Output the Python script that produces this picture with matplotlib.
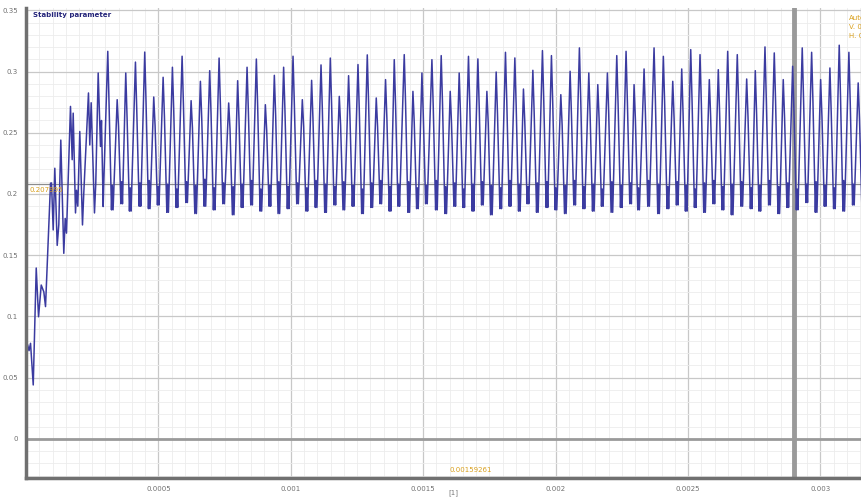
import matplotlib
matplotlib.use("Agg")
import matplotlib.pyplot as plt
from matplotlib.ticker import MultipleLocator

# start-up part of the trace, read point by point (time in microseconds)
start_t = [1.9, 5.7, 11.3, 17.0, 27.2, 38.5, 47.2, 57.4, 67.2, 73.6, 92.5, 96.2,
           102.6, 108.7, 117.7, 123.8, 131.3, 142.6, 147.9, 152.8, 167.9, 174.3,
           178.1, 186.8, 190.6, 195.5, 203.0, 213.2, 218.1, 235.8, 240.8, 246.0,
           258.5, 263.4, 272.5, 281.1, 284.9, 291.3, 293.6]
start_v = [0.070, 0.077, 0.072, 0.078, 0.044, 0.1395, 0.0997, 0.1256, 0.120, 0.108,
           0.2088, 0.209, 0.1706, 0.221, 0.158, 0.175, 0.244, 0.1515, 0.180, 0.168,
           0.2715, 0.228, 0.266, 0.1845, 0.203, 0.190, 0.251, 0.1747, 0.2008, 0.2825,
           0.240, 0.2745, 0.1845, 0.209, 0.2988, 0.2388, 0.260, 0.1897, 0.209]

# steady oscillation: one entry per cycle
peak_t = [308.7, 344.2, 376.6, 413.2, 448.3,
          482.3, 517.7, 552.8, 589.4, 623.4, 658.5, 693.6, 729.1, 765.3, 799.2,
          834.7, 869.8, 903.8, 937.7, 972.8, 1008.3, 1043.4, 1078.5, 1114.0, 1149.1,
          1183.0, 1218.1, 1253.6, 1288.7, 1322.6, 1357.7,
          1390.6, 1428.3, 1461.1, 1495.1, 1532.8, 1567.9, 1601.9, 1635.8, 1670.9,
          1706.4, 1740.4, 1775.5, 1810.6, 1846.0, 1878.5, 1914.0, 1950.2, 1984.2,
          2019.6, 2054.7, 2089.8, 2125.3, 2159.2, 2195.5, 2230.9, 2266.0,
          2296.2, 2334.0, 2371.7, 2406.8, 2442.3, 2476.2, 2510.2, 2545.3, 2580.4,
          2614.3, 2649.8, 2686.0, 2721.5, 2754.0, 2790.6, 2825.7, 2859.6, 2895.1,
          2931.3, 2966.8, 3000.8, 3035.8, 3071.0, 3107.5, 3142.6]
peak_v = [0.3165, 0.2770, 0.2988, 0.3077, 0.3159,
          0.2792, 0.2953, 0.3035, 0.3125, 0.2762, 0.2920, 0.3007, 0.3110, 0.2743, 0.2925,
          0.3035, 0.3102, 0.2729, 0.2969, 0.3035, 0.3125, 0.2770, 0.2928, 0.3054, 0.3110,
          0.2797, 0.2966, 0.3057, 0.3136, 0.2784, 0.2934,
          0.3097, 0.3138, 0.2838, 0.2988, 0.3097, 0.3130, 0.2838, 0.2988, 0.3124,
          0.3103, 0.2838, 0.2996, 0.3157, 0.3111, 0.2857, 0.3010, 0.3171, 0.3130,
          0.2811, 0.3002, 0.3193, 0.2988, 0.2893, 0.2988, 0.3130, 0.3165,
          0.2893, 0.3021, 0.3193, 0.3124, 0.2920, 0.3021, 0.3179, 0.3138, 0.2934,
          0.3015, 0.3165, 0.3138, 0.2939, 0.3007, 0.3201, 0.3152, 0.2934, 0.3043,
          0.3193, 0.3157, 0.2934, 0.3029, 0.3215, 0.3157, 0.2907]
shoulder_v = [0.272, 0.255, 0.262, 0.268, 0.274,
              0.256, 0.263, 0.268, 0.273, 0.254, 0.262, 0.266, 0.272, 0.253, 0.261,
              0.267, 0.271, 0.252, 0.264, 0.268, 0.273, 0.255, 0.262, 0.269, 0.272,
              0.256, 0.264, 0.268, 0.274, 0.255, 0.262,
              0.272, 0.274, 0.258, 0.265, 0.271, 0.273, 0.257, 0.264, 0.272,
              0.271, 0.258, 0.265, 0.275, 0.272, 0.259, 0.266, 0.276, 0.273,
              0.256, 0.265, 0.277, 0.264, 0.261, 0.265, 0.273, 0.275,
              0.261, 0.266, 0.277, 0.273, 0.262, 0.266, 0.276, 0.274, 0.263,
              0.266, 0.275, 0.274, 0.263, 0.265, 0.277, 0.275, 0.262, 0.267,
              0.277, 0.275, 0.263, 0.266, 0.278, 0.275, 0.261]
trough_v = [0.187, 0.192, 0.186, 0.190, 0.188, 0.191, 0.185, 0.189, 0.193, 0.184,
            0.190, 0.187, 0.192, 0.183, 0.189, 0.191, 0.186, 0.190, 0.184, 0.188,
            0.192, 0.186, 0.189, 0.185, 0.191, 0.187, 0.190, 0.184, 0.189, 0.192,
            0.186, 0.190, 0.185, 0.188, 0.192, 0.187, 0.184, 0.190, 0.189, 0.186,
            0.191, 0.183, 0.188, 0.190, 0.186, 0.192, 0.185, 0.189, 0.187, 0.184,
            0.191, 0.188, 0.186, 0.190, 0.185, 0.189, 0.192, 0.187, 0.190, 0.184,
            0.188, 0.191, 0.186, 0.189, 0.185, 0.192, 0.187, 0.183, 0.190, 0.188,
            0.186, 0.191, 0.184, 0.189, 0.187, 0.193, 0.185, 0.190, 0.188, 0.186,
            0.191, 0.189]
bump_v = [0.207, 0.210, 0.205, 0.209, 0.211, 0.206, 0.208, 0.204, 0.210, 0.207,
          0.212, 0.205, 0.209, 0.206, 0.208, 0.211, 0.204, 0.207, 0.210, 0.206,
          0.209, 0.205, 0.211, 0.208, 0.206, 0.210, 0.207, 0.204, 0.209, 0.211,
          0.206, 0.208, 0.210, 0.205, 0.207, 0.211, 0.206, 0.209, 0.204, 0.208,
          0.210, 0.207, 0.205, 0.211, 0.208, 0.206, 0.209, 0.210, 0.205, 0.207,
          0.211, 0.206, 0.208, 0.204, 0.210, 0.207, 0.209, 0.205, 0.211, 0.208,
          0.206, 0.210, 0.207, 0.204, 0.209, 0.211, 0.206, 0.208, 0.210, 0.205,
          0.207, 0.211, 0.206, 0.209, 0.204, 0.208, 0.210, 0.207, 0.205, 0.211,
          0.208, 0.206]

x_ticks = [0.0005, 0.001, 0.0015, 0.002, 0.0025, 0.003]
x_labels = ["0.0005", "0.001", "0.0015", "0.002", "0.0025", "0.003"]
y_ticks = [0, 0.05, 0.1, 0.15, 0.2, 0.25, 0.3, 0.35]
y_labels = ["0", "0.05", "0.1", "0.15", "0.2", "0.25", "0.3", "0.35"]

cursor_t = 0.0029
cursor_v = 0.2078

# build the polyline: peak, shoulder, trough, small bump, trough
t = list(start_t)
v = list(start_v)
for i in range(len(peak_t)):
    p = peak_t[i]
    t += [p, p + 5, p + 14, p + 17, p + 20]
    v += [peak_v[i], shoulder_v[i], trough_v[i], bump_v[i], trough_v[i]]
t = [x * 1e-6 for x in t]

fig = plt.figure(figsize=(8.62, 4.98), dpi=100)
ax = fig.add_axes([0.0302, 0.0402, 0.9698, 0.944])

ax.set_xlim(0, 0.003157)
ax.set_ylim(-0.032, 0.352)

ax.xaxis.set_minor_locator(MultipleLocator(0.00005))
ax.yaxis.set_minor_locator(MultipleLocator(0.01))
ax.grid(which="minor", color="#ececec", linewidth=0.6)
ax.grid(which="major", color="#c8c8c8", linewidth=0.9)
ax.set_axisbelow(True)

ax.set_xticks(x_ticks)
ax.set_xticklabels(x_labels)
ax.set_yticks(y_ticks)
ax.set_yticklabels(y_labels)
ax.tick_params(which="both", length=0, labelsize=5, labelcolor="#707070", pad=6)

for s in ["top", "right"]:
    ax.spines[s].set_visible(False)
for s in ["left", "bottom"]:
    ax.spines[s].set_color("#707070")
    ax.spines[s].set_linewidth(2.5)

ax.axhline(0, color="#9a9a9a", linewidth=2)
ax.axhline(cursor_v, color="#8c8c8c", linewidth=0.9)
ax.axvline(cursor_t, color="#9a9a9a", linewidth=3.5)

ax.plot(t, v, color="#3b3ba0", linewidth=1.1)

orange = "#d9a01e"
fig.text(33 / 862, 1 - 15 / 498, "Stability parameter", fontsize=5,
         fontweight="bold", color="#24247a", va="center")
fig.text(30 / 862, 1 - 190 / 498, "0.207995", fontsize=5, color=orange, va="center")
fig.text(450 / 862, 1 - 470 / 498, "0.00159261", fontsize=5, color=orange, va="center")
fig.text(849 / 862, 1 - 27 / 498, "Auto\nV. 0.207995\nH. 0.00159261", fontsize=5,
         color=orange, va="center", linespacing=1.6)
fig.text(453 / 862, 1 - 493 / 498, "[1]", fontsize=5, color="#777777", ha="center",
         va="center")

fig.savefig("out.png", dpi=100)
